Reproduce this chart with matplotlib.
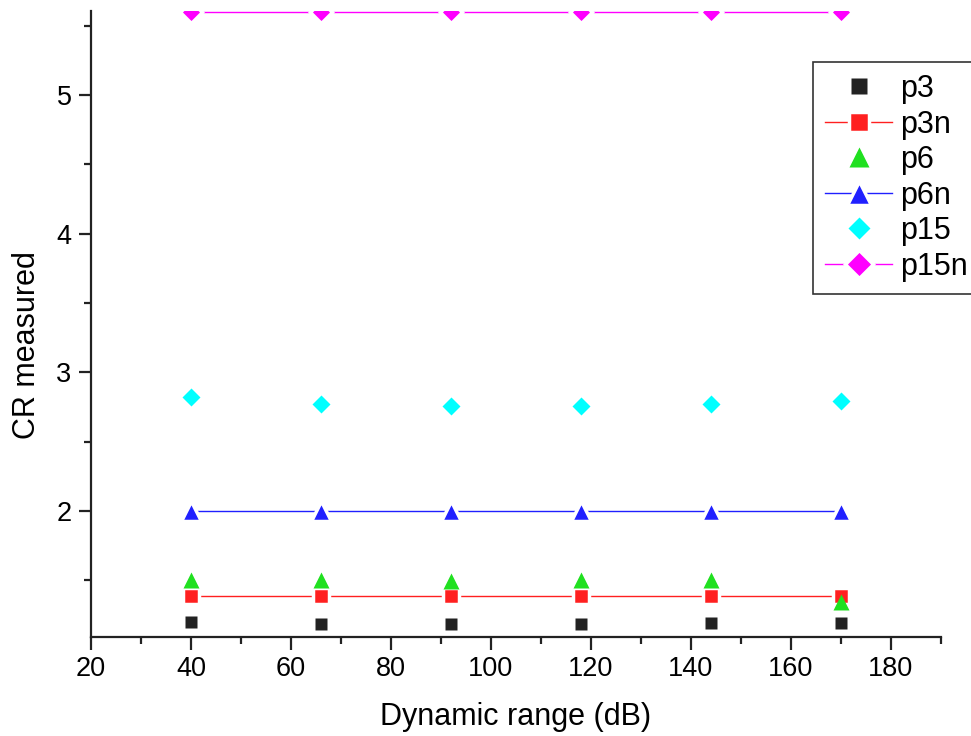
import numpy as np
import matplotlib.pyplot as plt
from matplotlib.ticker import MultipleLocator

plt.rcParams['font.family'] = ['Liberation Sans', 'DejaVu Sans']

# dynamic range settings (dB)
dr = [40, 66, 92, 118, 144, 170]

# measured compression ratio per pattern
p3 = [1.20, 1.185, 1.185, 1.185, 1.19, 1.195]
p3n = [1.39, 1.39, 1.39, 1.39, 1.39, 1.39]
p6 = [1.50, 1.50, 1.495, 1.50, 1.50, 1.345]
p6n = [2.0, 2.0, 2.0, 2.0, 2.0, 2.0]
p15 = [2.82, 2.775, 2.755, 2.76, 2.77, 2.79]
p15n = [5.6, 5.6, 5.6, 5.6, 5.6, 5.6]

fig = plt.figure(figsize=(9.71, 7.36), dpi=100)
ax = fig.add_axes([0.0937, 0.1345, 0.8753, 0.8505])

edge = dict(markeredgecolor='white', markeredgewidth=2.5)

ax.plot(dr, p3, 's', color='#222222', ms=9, mec='none', label='p3')
ax.plot(dr, p3n, 's-', color='#ff2020', lw=1, ms=11.5, label='p3n', **edge)
ax.plot(dr, p6, '^', color='#20e020', ms=12, mec='none', label='p6')
ax.plot(dr, p6n, '^-', color='#2020ff', lw=1, ms=14, label='p6n', **edge)
ax.plot(dr, p15, 'D', color='#00ffff', ms=9, mec='none', label='p15')
ax.plot(dr, p15n, 'D-', color='#ff00ff', lw=1, ms=11, label='p15n', **edge)

ax.set_xlim(20, 190)
ax.set_ylim(1.092, 5.605)
ax.xaxis.set_major_locator(MultipleLocator(20))
ax.xaxis.set_minor_locator(MultipleLocator(10))
ax.yaxis.set_major_locator(MultipleLocator(1))
ax.yaxis.set_minor_locator(MultipleLocator(0.5))

for side in ['top', 'right']:
    ax.spines[side].set_visible(False)
for side in ['left', 'bottom']:
    ax.spines[side].set_linewidth(1.6)
    ax.spines[side].set_color('#222222')

ax.tick_params(which='major', direction='out', length=9, width=1.6, labelsize=19.5,
               color='#222222', pad=5)
ax.tick_params(which='minor', direction='out', length=5, width=1.6, color='#222222')

ax.set_xlabel('Dynamic range (dB)', fontsize=22, labelpad=14)
ax.set_ylabel('CR measured', fontsize=22)
ax.yaxis.set_label_coords(-0.058, 0.466)

leg = ax.legend(loc='upper left', bbox_to_anchor=(0.837, 0.916), bbox_transform=fig.transFigure,
                fontsize=22, frameon=True, fancybox=False, edgecolor='black', markerscale=1.25,
                handlelength=2.2, labelspacing=0.18, borderpad=0.4, handletextpad=0.25,
                borderaxespad=0)
leg.get_frame().set_linewidth(1.2)

plt.savefig('out.png', dpi=100)
